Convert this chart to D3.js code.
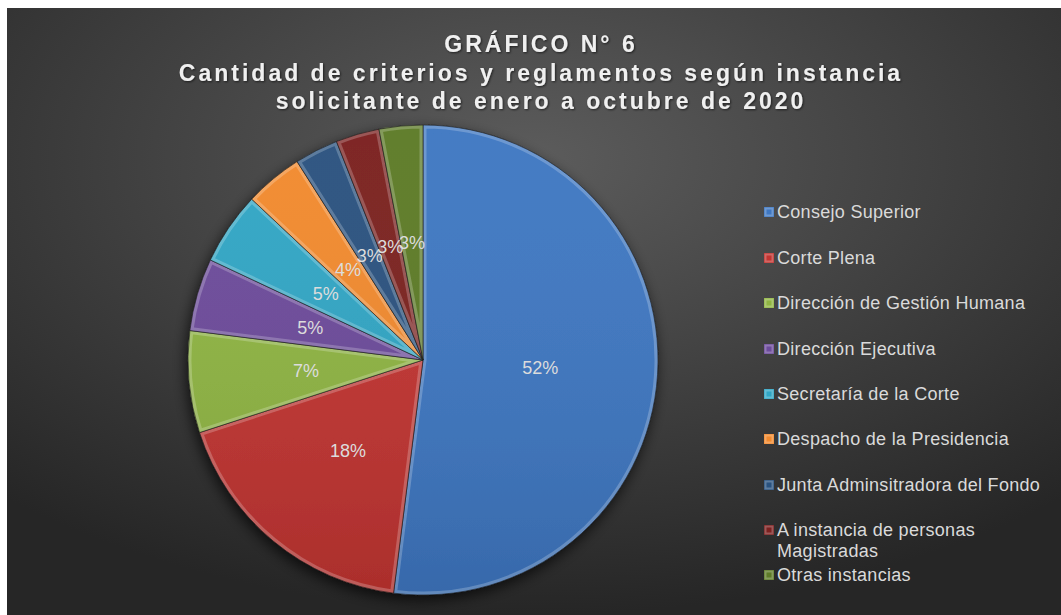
<!DOCTYPE html>
<html>
<head>
<meta charset="utf-8">
<script src="https://cdn.jsdelivr.net/npm/d3@7"></script>
<style>
  body { margin: 0; background: #ffffff; }
  svg { display: block; }
  text { font-family: "Liberation Sans", Arial, sans-serif; }
</style>
</head>
<body>
<script>
var width = 1061;
var height = 615;

var categories = [
  'Consejo Superior',
  'Corte Plena',
  'Dirección de Gestión Humana',
  'Dirección Ejecutiva',
  'Secretaría de la Corte',
  'Despacho de la Presidencia',
  'Junta Adminsitradora del Fondo',
  'A instancia de personas Magistradas',
  'Otras instancias'
];
var values = [52, 18, 7, 5, 5, 4, 3, 3, 3];
var colors = ['#3e77c2', '#c23431', '#8fb542', '#6c4b9b', '#30a6c5', '#f28a2e', '#29527f', '#7b2120', '#5d7b27'];
var titleLines = [
  'GRÁFICO N° 6',
  'Cantidad de criterios y reglamentos según instancia',
  'solicitante de enero a octubre de 2020'
];
// legend label wrapping as in the original
var legendLines = [
  ['Consejo Superior'],
  ['Corte Plena'],
  ['Dirección de Gestión Humana'],
  ['Dirección Ejecutiva'],
  ['Secretaría de la Corte'],
  ['Despacho de la Presidencia'],
  ['Junta Adminsitradora del Fondo'],
  ['A instancia de personas', 'Magistradas'],
  ['Otras instancias']
];

var cx = 423;
var cy = 360;
var radius = 235;

var svg = d3.select('body').append('svg')
  .attr('width', width)
  .attr('height', height);

var defs = svg.append('defs');

var bg = defs.append('radialGradient')
  .attr('id', 'bgGrad')
  .attr('cx', '0.5').attr('cy', '0.25').attr('r', '0.75')
  .attr('fx', '0.5').attr('fy', '0.25');
bg.append('stop').attr('offset', '0').attr('stop-color', '#5c5c5c');
bg.append('stop').attr('offset', '1').attr('stop-color', '#262626');

var shadow = defs.append('filter')
  .attr('id', 'pieShadow')
  .attr('x', '-20%').attr('y', '-20%').attr('width', '140%').attr('height', '140%');
shadow.append('feDropShadow')
  .attr('dx', -2).attr('dy', 5)
  .attr('stdDeviation', 7)
  .attr('flood-color', '#000')
  .attr('flood-opacity', 0.7);

var textShadow = defs.append('filter').attr('id', 'textShadow');
textShadow.append('feDropShadow')
  .attr('dx', 1).attr('dy', 1)
  .attr('stdDeviation', 1)
  .attr('flood-color', '#000')
  .attr('flood-opacity', 0.6);

// shading over each slice: a bit darker toward the bottom
var shade = defs.append('linearGradient')
  .attr('id', 'shade')
  .attr('gradientUnits', 'userSpaceOnUse')
  .attr('x1', 0).attr('y1', -radius)
  .attr('x2', 0).attr('y2', radius);
shade.append('stop').attr('offset', '0').attr('stop-color', '#fff').attr('stop-opacity', 0.03);
shade.append('stop').attr('offset', '1').attr('stop-color', '#000').attr('stop-opacity', 0.12);

svg.append('rect')
  .attr('x', 7).attr('y', 8)
  .attr('width', width - 7).attr('height', height - 8)
  .attr('fill', 'url(#bgGrad)');

var title = svg.append('text')
  .attr('text-anchor', 'middle')
  .attr('fill', '#f0f0f0')
  .attr('font-size', 23)
  .attr('font-weight', 'bold')
  .attr('letter-spacing', 3)
  .attr('filter', 'url(#textShadow)');
title.selectAll('tspan')
  .data(titleLines)
  .enter().append('tspan')
  .attr('x', 541)
  .attr('y', function (d, i) { return 52 + i * 28.5; })
  .text(function (d) { return d; });

var pie = d3.pie().sort(null).value(function (d) { return d; });
var arcs = pie(values);
var arc = d3.arc().innerRadius(0).outerRadius(radius);
var labelArc = d3.arc().innerRadius(radius * 0.5).outerRadius(radius * 0.5);

var pieG = svg.append('g')
  .attr('transform', 'translate(' + cx + ',' + cy + ')');

var slicesG = pieG.append('g').attr('filter', 'url(#pieShadow)');

arcs.forEach(function (a, i) {
  defs.append('clipPath')
    .attr('id', 'clip' + i)
    .append('path')
    .attr('d', arc(a));
});

var slice = slicesG.selectAll('g.slice')
  .data(arcs)
  .enter().append('g')
  .attr('class', 'slice');

slice.append('path')
  .attr('d', arc)
  .attr('fill', function (d, i) { return colors[i]; });

slice.append('path')
  .attr('d', arc)
  .attr('fill', 'url(#shade)');

// bevel: lighter rim on the inside of every slice edge
slice.append('path')
  .attr('d', arc)
  .attr('fill', 'none')
  .attr('stroke', '#ffffff')
  .attr('stroke-opacity', 0.22)
  .attr('stroke-width', 7)
  .attr('clip-path', function (d, i) { return 'url(#clip' + i + ')'; });

slice.append('path')
  .attr('d', arc)
  .attr('fill', 'none')
  .attr('stroke', '#1a1a1a')
  .attr('stroke-opacity', 0.6)
  .attr('stroke-width', 1);

pieG.selectAll('text.pct')
  .data(arcs)
  .enter().append('text')
  .attr('class', 'pct')
  .attr('transform', function (d) { return 'translate(' + labelArc.centroid(d) + ')'; })
  .attr('text-anchor', 'middle')
  .attr('dy', '0.35em')
  .attr('fill', '#dcdcdc')
  .attr('font-size', 18)
  .text(function (d) {
    return Math.round(100 * d.value / d3.sum(values)) + '%';
  });

var legendY = [212, 258, 303, 349, 394, 439, 485, 530, 575];
var legend = svg.append('g');
var item = legend.selectAll('g.item')
  .data(categories)
  .enter().append('g')
  .attr('class', 'item')
  .attr('transform', function (d, i) { return 'translate(764,' + legendY[i] + ')'; });

item.append('rect')
  .attr('x', 0).attr('y', -5)
  .attr('width', 10).attr('height', 10)
  .attr('fill', function (d, i) { return colors[i]; });
item.append('rect')
  .attr('x', 1.5).attr('y', -3.5)
  .attr('width', 7).attr('height', 7)
  .attr('fill', 'none')
  .attr('stroke', '#fff')
  .attr('stroke-opacity', 0.25)
  .attr('stroke-width', 2);

var legendText = item.append('text')
  .attr('fill', '#dadada')
  .attr('font-size', 18)
  .attr('letter-spacing', 0.3);
legendText.selectAll('tspan')
  .data(function (d, i) { return legendLines[i]; })
  .enter().append('tspan')
  .attr('x', 13)
  .attr('y', function (d, j) { return j * 21; })
  .attr('dy', '0.35em')
  .text(function (d) { return d; });
</script>
</body>
</html>
